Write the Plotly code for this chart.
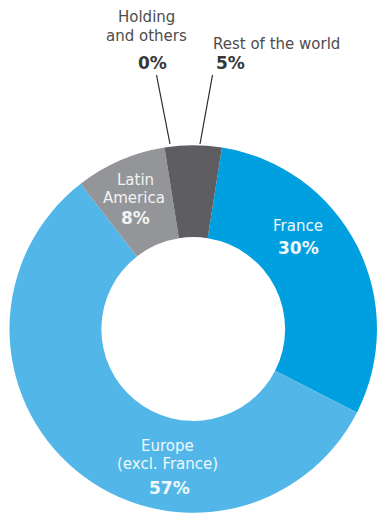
import plotly.graph_objects as go

# Revenue breakdown by region
regions = ["France", "Europe (excl. France)", "Latin America", "Holding and others", "Rest of the world"]
shares = [30, 57, 8, 0, 5]
colors = ["#00A0E0", "#52B7E8", "#949599", "#5E5E62", "#5E5E62"]

W, H = 377, 515
FONT = "'DejaVu Sans', Verdana, sans-serif"
NAME = 15     # region name size
PCT = 17      # percentage size

fig = go.Figure(
    go.Pie(
        labels=regions,
        values=shares,
        sort=False,
        direction="clockwise",
        rotation=9,
        hole=0.5,
        marker=dict(colors=colors, line=dict(width=0)),
        textinfo="none",
        hoverinfo="label+percent",
        showlegend=False,
        domain=dict(x=[9.5 / W, 1.0], y=[2 / H, 370 / H]),
    )
)


def px(x, y):
    return x / W, 1 - y / H


DARK_NAME, DARK_PCT = "#4d4d4d", "#383838"
ON_GREY, ON_BLUE = "#f2f2f2", "#eef8fd"

# (text, x, y, size, bold, color, anchor)
labels = [
    ("Holding", 146, 17, NAME, False, DARK_NAME, "center"),
    ("and others", 146, 36, NAME, False, DARK_NAME, "center"),
    (f"{shares[3]}%", 152, 63, PCT, True, DARK_PCT, "center"),
    ("Rest of the world", 212, 44, NAME, False, DARK_NAME, "left"),
    (f"{shares[4]}%", 215, 63, PCT, True, DARK_PCT, "left"),
    ("Latin", 135, 180, NAME, False, ON_GREY, "center"),
    ("America", 134, 198, NAME, False, ON_GREY, "center"),
    (f"{shares[2]}%", 135, 218, PCT, True, ON_GREY, "center"),
    ("France", 298, 226, NAME, False, ON_BLUE, "center"),
    (f"{shares[0]}%", 298, 248, PCT, True, ON_BLUE, "center"),
    ("Europe", 167, 445.5, NAME, False, ON_BLUE, "center"),
    ("(excl. France)", 167, 463.5, NAME, False, ON_BLUE, "center"),
    (f"{shares[1]}%", 169, 488, PCT, True, ON_BLUE, "center"),
]

for text, x, y, size, bold, color, anchor in labels:
    ax, ay = px(x, y)
    fig.add_annotation(
        x=ax, y=ay, xref="paper", yref="paper",
        text=f"<b>{text}</b>" if bold else text,
        showarrow=False, xanchor=anchor, yanchor="middle", borderpad=0,
        font=dict(family=FONT, size=size, color=color),
    )

# leader lines from the outside labels to the ring
for (x0, y0, x1, y1) in [(156.5, 75, 170, 144), (212.5, 75, 200, 144)]:
    a0, b0 = px(x0, y0)
    a1, b1 = px(x1, y1)
    fig.add_shape(type="line", xref="paper", yref="paper",
                  x0=a0, y0=b0, x1=a1, y1=b1,
                  line=dict(color="#2a2a2a", width=1.2))

fig.update_layout(
    width=W, height=H,
    margin=dict(l=0, r=0, t=0, b=0),
    paper_bgcolor="white",
    plot_bgcolor="white",
)

fig.write_html("out.html")
